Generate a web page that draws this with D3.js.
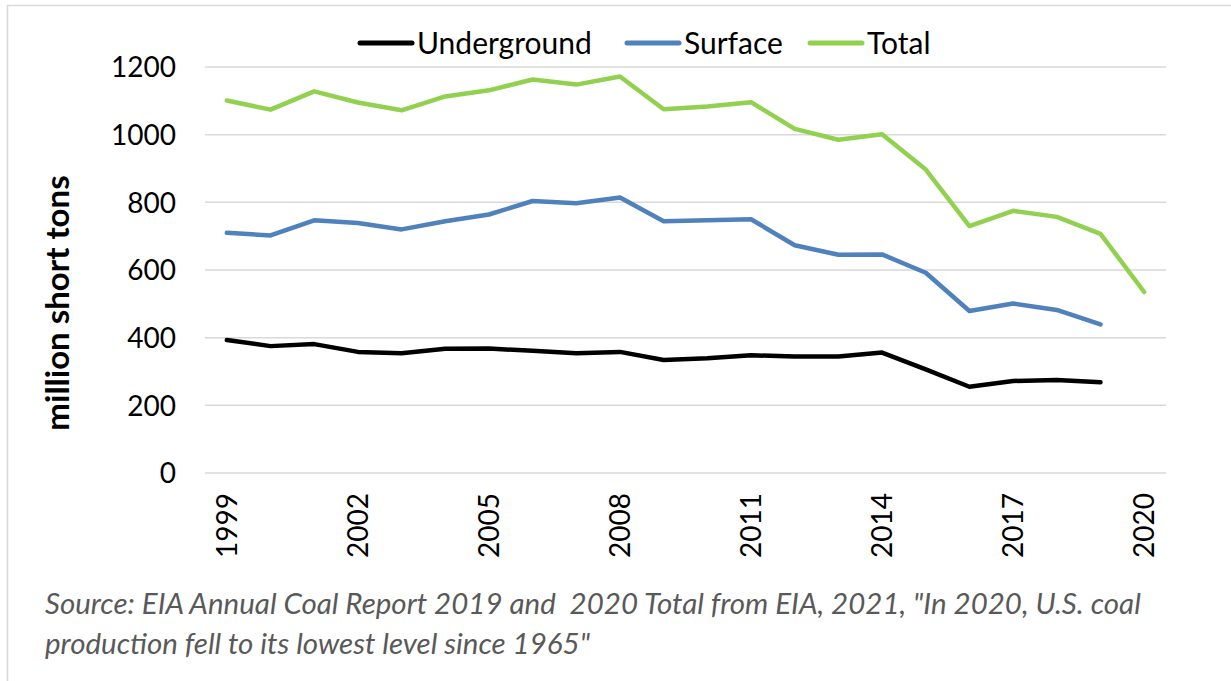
<!DOCTYPE html>
<html>
<head>
<meta charset="utf-8">
<script src="https://cdn.jsdelivr.net/npm/d3@7"></script>
<style>
  body { margin: 0; background: #fff; }
  svg { display: block; font-family: Lato, "Open Sans", sans-serif; }
</style>
</head>
<body>
<svg id="chart" width="1231" height="681"></svg>
<script>
// values, million short tons
var years = [1999, 2000, 2001, 2002, 2003, 2004, 2005, 2006, 2007, 2008, 2009,
             2010, 2011, 2012, 2013, 2014, 2015, 2016, 2017, 2018, 2019, 2020];
var underground = [393, 375, 381, 358, 354, 367, 368, 361, 354, 358, 334,
                   339, 348, 344, 344, 356, 306, 255, 272, 275, 268, null];
var surface = [710, 702, 747, 739, 720, 744, 764, 804, 797, 814, 744,
               747, 750, 673, 645, 646, 592, 479, 501, 482, 439, null];
var total = [1101, 1074, 1128, 1095, 1072, 1113, 1131, 1163, 1148, 1172, 1075,
             1083, 1096, 1017, 985, 1001, 897, 730, 775, 757, 707, 535];
var yTicks = [0, 200, 400, 600, 800, 1000, 1200];
var xTickYears = [1999, 2002, 2005, 2008, 2011, 2014, 2017, 2020];

var series = [
    {name: "Underground", values: underground, color: "#000000"},
    {name: "Surface", values: surface, color: "#4f81bd"},
    {name: "Total", values: total, color: "#92d050"}
];

var svg = d3.select("#chart");
var plot = {left: 205, right: 1166, top: 67, bottom: 473};

// outer chart border
svg.append("rect")
    .attr("x", 7.5).attr("y", 5.5)
    .attr("width", 1240).attr("height", 700)
    .attr("fill", "none")
    .attr("stroke", "#d9d9d9")
    .attr("stroke-width", 1.5);

var x = d3.scalePoint()
    .domain(years)
    .range([plot.left, plot.right])
    .padding(0.5);

var y = d3.scaleLinear()
    .domain([0, 1200])
    .range([plot.bottom, plot.top]);

// gridlines
svg.append("g")
    .selectAll("line")
    .data(yTicks)
    .join("line")
    .attr("x1", plot.left).attr("x2", plot.right)
    .attr("y1", function (d) { return y(d); })
    .attr("y2", function (d) { return y(d); })
    .attr("stroke", "#d9d9d9")
    .attr("stroke-width", 1.5);

// y axis labels
var yAxis = d3.axisLeft(y).tickValues(yTicks).tickFormat(d3.format("d"))
    .tickSize(0).tickPadding(0);
var yg = svg.append("g")
    .attr("transform", "translate(176,0)")
    .call(yAxis);
yg.select(".domain").remove();
yg.selectAll("text")
    .attr("font-size", 28)
    .attr("font-family", "Lato, sans-serif")
    .attr("fill", "#000")
    .attr("dy", "0.35em");

// x axis labels, rotated
var xAxis = d3.axisBottom(x).tickValues(xTickYears).tickSize(0).tickPadding(0);
var xg = svg.append("g")
    .attr("transform", "translate(0," + plot.bottom + ")")
    .call(xAxis);
xg.select(".domain").remove();
xg.selectAll("text")
    .attr("font-size", 28)
    .attr("font-family", "Lato, sans-serif")
    .attr("fill", "#000")
    .attr("text-anchor", "end")
    .attr("transform", "rotate(-90)")
    .attr("x", -20)
    .attr("y", 0)
    .attr("dy", "0.35em");

// y title
svg.append("text")
    .attr("transform", "translate(57,303) rotate(-90)")
    .attr("text-anchor", "middle")
    .attr("dy", "0.35em")
    .attr("font-size", 33)
    .attr("font-weight", "bold")
    .text("million short tons");

// series lines
var line = d3.line()
    .defined(function (d) { return d.v != null; })
    .x(function (d) { return x(d.year); })
    .y(function (d) { return y(d.v); });

svg.append("g")
    .selectAll("path")
    .data(series)
    .join("path")
    .attr("d", function (s) {
        return line(years.map(function (yr, i) { return {year: yr, v: s.values[i]}; }));
    })
    .attr("fill", "none")
    .attr("stroke", function (s) { return s.color; })
    .attr("stroke-width", 4.5)
    .attr("stroke-linejoin", "round")
    .attr("stroke-linecap", "round");

// legend
var legendX = [360, 627, 810];
var legend = svg.append("g");
series.forEach(function (s, i) {
    var lx = legendX[i];
    legend.append("line")
        .attr("x1", lx).attr("x2", lx + 52)
        .attr("y1", 43).attr("y2", 43)
        .attr("stroke", s.color)
        .attr("stroke-width", 5)
        .attr("stroke-linecap", "round");
    legend.append("text")
        .attr("x", lx + 57)
        .attr("y", 43)
        .attr("dy", "0.35em")
        .attr("font-size", 30)
        .text(s.name);
});

// source note
var note = svg.append("text")
    .attr("font-size", 29.5)
    .attr("font-style", "italic")
    .attr("fill", "#595959")
    .style("white-space", "pre");
note.append("tspan").attr("x", 45).attr("y", 614)
    .text("Source: EIA Annual Coal Report 2019 and  2020 Total from EIA, 2021, \"In 2020, U.S. coal");
note.append("tspan").attr("x", 45).attr("y", 654)
    .text("production fell to its lowest level since 1965\"");
</script>
</body>
</html>
